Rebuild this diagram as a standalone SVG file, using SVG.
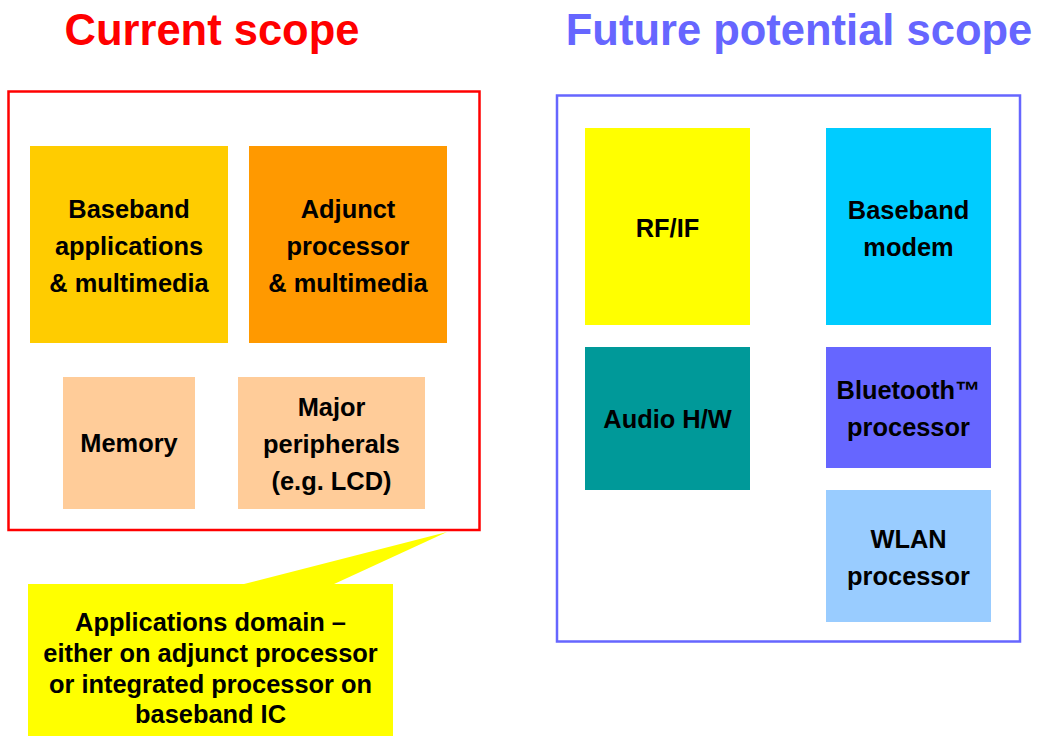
<svg xmlns="http://www.w3.org/2000/svg" width="1037" height="736" viewBox="0 0 1037 736">
<style>
text{font-family:"Liberation Sans",Arial,sans-serif;font-weight:bold;text-anchor:middle}
.t{font-size:25.4px;fill:#000}
.h{font-size:43.5px}
</style>
<rect x="0" y="0" width="1037" height="736" fill="#fff"/>
<text class="h" x="212" y="44.5" fill="#FF0000">Current scope</text>
<text class="h" x="799" y="44.5" fill="#6666FF">Future potential scope</text>
<g id="current-scope"><rect x="8.5" y="91.5" width="471" height="438.5" fill="#fff" stroke="#FF0000" stroke-width="2.5"/></g>
<g id="future-scope"><rect x="557" y="95.5" width="463" height="546" fill="#fff" stroke="#6666FF" stroke-width="2.5"/></g>
<g id="baseband-apps"><rect x="30" y="146" width="198" height="197" fill="#FFCC00"/>
<text class="t" x="129" y="218">Baseband</text><text class="t" x="129" y="255">applications</text><text class="t" x="129" y="292">&amp; multimedia</text></g>
<g id="adjunct"><rect x="249" y="146" width="198" height="197" fill="#FF9900"/>
<text class="t" x="348" y="218">Adjunct</text><text class="t" x="348" y="255">processor</text><text class="t" x="348" y="292">&amp; multimedia</text></g>
<g id="memory"><rect x="63" y="377" width="132" height="132" fill="#FFCC99"/>
<text class="t" x="129" y="452">Memory</text></g>
<g id="peripherals"><rect x="238" y="377" width="187" height="132" fill="#FFCC99"/>
<text class="t" x="331.5" y="416">Major</text><text class="t" x="331.5" y="453">peripherals</text><text class="t" x="331.5" y="490">(e.g. LCD)</text></g>
<g id="rfif"><rect x="585" y="128" width="165" height="197" fill="#FFFF00"/>
<text class="t" x="667.5" y="237">RF/IF</text></g>
<g id="baseband-modem"><rect x="826" y="128" width="165" height="197" fill="#00CCFF"/>
<text class="t" x="908.5" y="218.5">Baseband</text><text class="t" x="908.5" y="255.5">modem</text></g>
<g id="audio"><rect x="585" y="347" width="165" height="143" fill="#009999"/>
<text class="t" x="667.5" y="428">Audio H/W</text></g>
<g id="bluetooth"><rect x="826" y="347" width="165" height="121" fill="#6666FF"/>
<text class="t" x="908.5" y="399">Bluetooth™</text><text class="t" x="908.5" y="436">processor</text></g>
<g id="wlan"><rect x="826" y="490" width="165" height="132" fill="#99CCFF"/>
<text class="t" x="908.5" y="548">WLAN</text><text class="t" x="908.5" y="585">processor</text></g>
<g id="connectors"><polygon points="242,584.5 447,532 333,584.5" fill="#FFFF00"/></g>
<g id="callout"><rect x="28" y="584" width="365" height="152" fill="#FFFF00"/>
<text class="t" x="210.5" y="631">Applications domain –</text><text class="t" x="210.5" y="662">either on adjunct processor</text><text class="t" x="210.5" y="693">or integrated processor on</text><text class="t" x="210.5" y="723">baseband IC</text></g>
</svg>
